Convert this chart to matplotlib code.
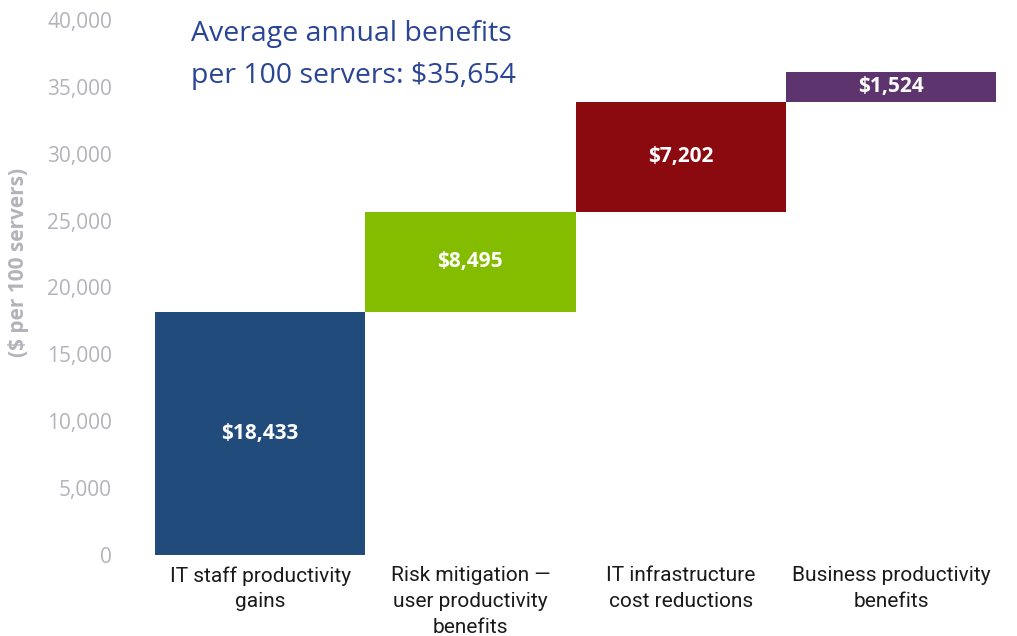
import numpy as np
import matplotlib.pyplot as plt

categories = ["IT staff productivity\ngains",
              "Risk mitigation —\nuser productivity\nbenefits",
              "IT infrastructure\ncost reductions",
              "Business productivity\nbenefits"]
# printed values
values = [18433, 8495, 7202, 1524]
# bar heights as drawn in the picture (not exactly to scale)
heights = [18150, 7520, 8210, 2240]
colors = ["#214b7b", "#84bd00", "#8b0a10", "#5e346e"]
yticks = [0, 5000, 10000, 15000, 20000, 25000, 30000, 35000, 40000]

plt.rcParams['font.family'] = ['Open Sans', 'DejaVu Sans']

bottoms = np.concatenate([[0], np.cumsum(heights)[:-1]])
x = np.arange(len(values))

fig = plt.figure(figsize=(10.17, 6.36), dpi=100)
ax = fig.add_axes([0.1524, 0.1274, 0.827, 0.8412])
ax.bar(x, heights, bottom=bottoms, width=1.0, color=colors)
for xi, v, h, b in zip(x, values, heights, bottoms):
    ax.text(xi, b + h / 2, f"${v:,}", ha="center", va="center",
            color="white", fontsize=15, fontweight="bold")

ax.set_xlim(-0.5, 3.5)
ax.set_ylim(0, 40000)
ax.set_yticks(yticks)
ax.set_yticklabels([f"{t:,}" for t in yticks], color="#b3b3bb", fontsize=15)
ax.set_xticks(x)
ax.set_xticklabels(categories, fontsize=15, color="#1a1a1a", va="top",
                   linespacing=1.45, family=["Roboto", "DejaVu Sans"])
ax.tick_params(axis="both", length=0)
ax.tick_params(axis="y", pad=31)
ax.tick_params(axis="x", pad=8)
for s in ax.spines.values():
    s.set_visible(False)

fig.text(0.018, 0.588, "($ per 100 servers)", rotation=90, ha="center", va="center",
         color="#b3b3bb", fontsize=15, fontweight="bold")
fig.text(0.188, 0.968, "Average annual benefits\nper 100 servers: $35,654", ha="left", va="top",
         color="#2b4595", fontsize=20.5, linespacing=1.65)

fig.savefig("out.png", dpi=100)
